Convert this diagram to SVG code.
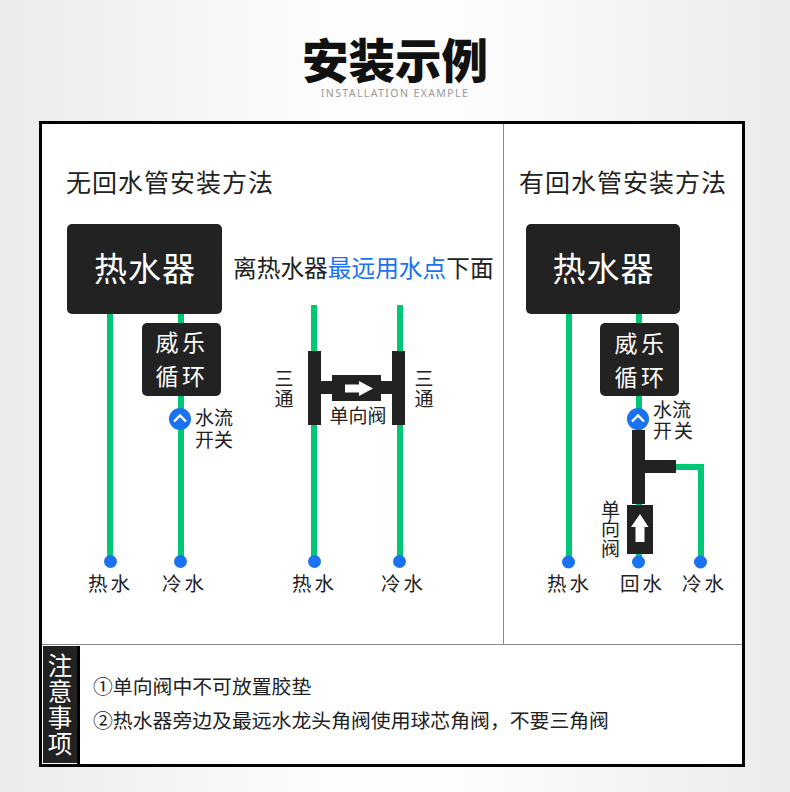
<svg xmlns="http://www.w3.org/2000/svg" width="790" height="792" viewBox="0 0 790 792">
<style>
text{font-family:"Noto Sans CJK SC","Noto Sans",sans-serif;fill:#222}
.w{fill:#fff}
.pipe{fill:#00c774}
.blk{fill:#222}
.dot{fill:#1b72f0}
.lbl{font-size:19.500px;letter-spacing:3px;text-anchor:middle}
.sm{font-size:19px}
.t{font-size:25px;letter-spacing:1px}
.m{text-anchor:middle}
.v{writing-mode:vertical-rl}
</style>
<defs>
<linearGradient id="bg" x1="0" y1="0" x2="1" y2="0"><stop offset="0" stop-color="#ebebeb"/><stop offset="0.42" stop-color="#fdfdfd"/><stop offset="0.58" stop-color="#fdfdfd"/><stop offset="1" stop-color="#ebebeb"/></linearGradient>
<g id="chev"><path d="M-6 2.500L0-3.500L6 2.500" fill="none" stroke="#fff" stroke-width="2.400"/></g>
</defs>
<rect width="790" height="792" fill="url(#bg)"/>
<rect x="40.500" y="122.500" width="703" height="643" fill="#fff" stroke="#000" stroke-width="3"/>
<path d="M503.500 124V644" stroke="#888" stroke-width="1"/>
<path d="M42 644.500H742" stroke="#888" stroke-width="1"/>
<g id="title">
<text class="m" x="395" y="78" font-size="46.500" font-weight="900" style="fill:#111">安装示例</text>
<text class="m" x="395" y="97" font-size="10.500" letter-spacing="1.400" style="fill:#999;font-family:'Noto Sans',sans-serif">INSTALLATION EXAMPLE</text>
</g>
<g id="connectors">
<rect class="pipe" x="107" y="314" width="6" height="247"/>
<rect class="pipe" x="178" y="314" width="6" height="247"/>
<rect class="pipe" x="311" y="305" width="6" height="255"/>
<rect class="pipe" x="397" y="305" width="6" height="255"/>
<rect class="pipe" x="566" y="314" width="6" height="247"/>
<rect class="pipe" x="636" y="314" width="6" height="247"/>
<path class="pipe" d="M676 464H704V561H698V470H676Z"/>
</g>
<g id="heading-left"><text class="t" x="66" y="192">无回水管安装方法</text></g>
<g id="heading-right"><text class="t" x="519" y="192">有回水管安装方法</text></g>
<g id="heater-left"><rect class="blk" x="67" y="224" width="155" height="90" rx="5"/><text class="w m" x="145" y="281" font-size="33" letter-spacing="1">热水器</text></g>
<g id="loop-left"><rect class="blk" x="142" y="323" width="79" height="73" rx="5"/><text class="w m" x="182" y="351" font-size="23" letter-spacing="3.500">威乐</text><text class="w m" x="182" y="385" font-size="23" letter-spacing="3.500">循环</text></g>
<g id="switch-left"><circle class="dot" cx="180" cy="419" r="11"/><use href="#chev" x="180" y="419"/><text class="sm" x="195" y="425">水流</text><text class="sm" x="195" y="447">开关</text></g>
<g id="ends-left"><circle class="dot" cx="110.500" cy="561.500" r="6.500"/><circle class="dot" cx="180.500" cy="561.500" r="6.500"/><text class="lbl" x="110.500" y="591">热水</text><text class="lbl" x="184.500" y="591">冷水</text></g>
<g id="middle-title"><text x="233" y="277" font-size="23.700">离热水器<tspan style="fill:#1b72f0">最远用水点</tspan>下面</text></g>
<g id="middle-valve">
<rect class="blk" x="308" y="351" width="13" height="74"/>
<rect class="blk" x="392" y="351" width="13" height="74"/>
<rect class="blk" x="321" y="381" width="71" height="13"/>
<rect class="blk" x="332" y="375" width="49" height="26"/>
<path fill="#fff" d="M345 384.500H359V381L373 388.500L359 396V392.500H345Z"/>
<text class="sm m" x="358" y="423">单向阀</text>
<text class="sm v" x="284" y="369" letter-spacing="1">三通</text>
<text class="sm v" x="424" y="369" letter-spacing="1">三通</text>
</g>
<g id="ends-middle"><circle class="dot" cx="314.500" cy="561.500" r="6.500"/><circle class="dot" cx="399.500" cy="561.500" r="6.500"/><text class="lbl" x="314.500" y="591">热水</text><text class="lbl" x="403.500" y="591">冷水</text></g>
<g id="heater-right"><rect class="blk" x="526" y="224" width="154" height="90" rx="5"/><text class="w m" x="603.500" y="281" font-size="33" letter-spacing="1">热水器</text></g>
<g id="loop-right"><rect class="blk" x="600" y="323" width="79" height="73" rx="5"/><text class="w m" x="641" y="352" font-size="23" letter-spacing="3.500">威乐</text><text class="w m" x="641" y="386" font-size="23" letter-spacing="3.500">循环</text></g>
<g id="switch-right"><circle class="dot" cx="638" cy="419" r="11"/><use href="#chev" x="638" y="419"/><text class="sm" x="653" y="417">水流</text><text class="sm" x="653" y="438" letter-spacing="2">开关</text></g>
<g id="tee-right">
<rect class="blk" x="632" y="430" width="13" height="74"/>
<rect class="blk" x="645" y="460" width="31" height="13"/>
<rect class="blk" x="627" y="505" width="26" height="49"/>
<path fill="#fff" d="M635.500 542V527H631L640 514L648.500 527H644.500V542Z"/>
<text class="sm v" x="610.500" y="500" letter-spacing="0.500">单向阀</text>
</g>
<g id="ends-right"><circle class="dot" cx="568.500" cy="562" r="6.500"/><circle class="dot" cx="638.500" cy="562" r="6.500"/><circle class="dot" cx="700.500" cy="562" r="6.500"/><text class="lbl" x="569.500" y="591">热水</text><text class="lbl" x="642.500" y="591">回水</text><text class="lbl" x="704.500" y="591">冷水</text></g>
<g id="notes">
<rect class="blk" x="43" y="646" width="34" height="117"/>
<rect x="77" y="646" width="3" height="118" fill="#000"/>
<text class="w v" x="60" y="653" font-size="24.500" letter-spacing="1.500">注意事项</text>
<text x="93" y="694" font-size="19.850">①单向阀中不可放置胶垫</text>
<text x="93" y="728" font-size="19.850">②热水器旁边及最远水龙头角阀使用球芯角阀，不要三角阀</text>
</g>
</svg>
